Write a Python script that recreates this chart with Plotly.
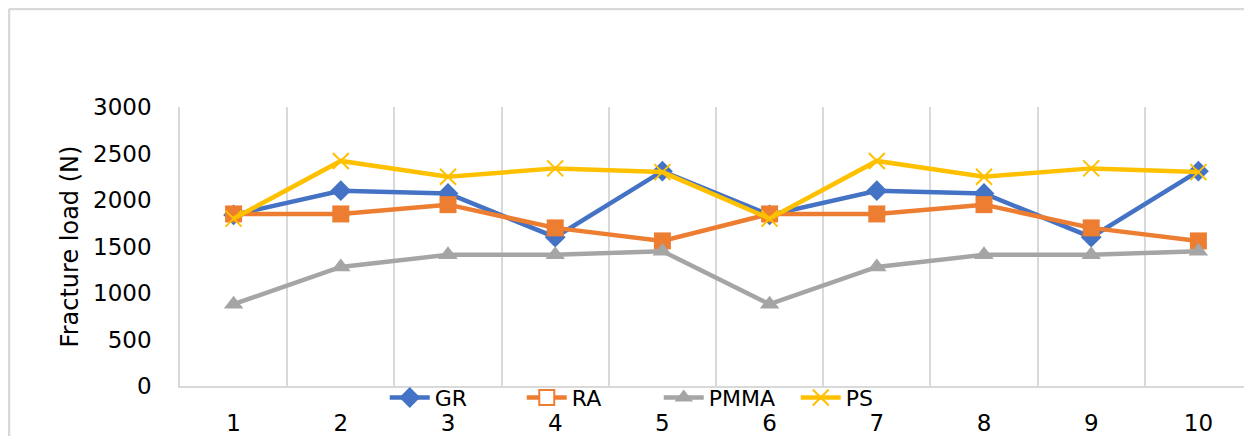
import plotly.graph_objects as go

categories = ["1", "2", "3", "4", "5", "6", "7", "8", "9", "10"]
gr = [1840, 2100, 2070, 1600, 2310, 1840, 2100, 2070, 1600, 2310]
ra = [1850, 1850, 1950, 1700, 1560, 1850, 1850, 1950, 1700, 1560]
pmma = [880, 1280, 1410, 1410, 1450, 880, 1280, 1410, 1410, 1450]
ps = [1800, 2420, 2250, 2340, 2300, 1800, 2420, 2250, 2340, 2300]
y_ticks = [0, 500, 1000, 1500, 2000, 2500, 3000]

FONT = "DejaVu Sans"
fig = go.Figure()

series = [
    ("GR", gr, "#4472C4", dict(symbol="diamond", size=16, color="#4472C4"), None),
    ("RA", ra, "#ED7D31", dict(symbol="square", size=17, color="#ED7D31"),
     dict(symbol="square", size=15, color="white", line=dict(color="#ED7D31", width=2))),
    ("PMMA", pmma, "#A5A5A5", dict(symbol="triangle-up", size=17, color="#A5A5A5"), None),
    ("PS", ps, "#FFC000", dict(symbol="x-thin-open", size=16, line=dict(color="#FFC000", width=2), color="#FFC000"), None),
]

for name, vals, col, mk, legmk in series:
    fig.add_trace(go.Scatter(
        x=categories, y=vals, name=name, mode="lines+markers",
        line=dict(color=col, width=4.5), marker=mk,
        showlegend=legmk is None, legendrank=len(fig.data),
    ))
    if legmk is not None:
        fig.add_trace(go.Scatter(
            x=[None], y=[None], name=name, mode="lines+markers",
            line=dict(color=col, width=4.5), marker=legmk, showlegend=True,
            legendrank=len(fig.data) - 1,
        ))

# page body has an 8px margin: figure starts at (8, 8)
fig.update_layout(
    width=1244, height=428,
    margin=dict(l=172, r=0, t=99, b=50),
    paper_bgcolor="white", plot_bgcolor="white",
    font=dict(family=FONT, size=22, color="black"),
    showlegend=True,
    legend=dict(orientation="h", x=0.191, y=-0.042, xanchor="left", yanchor="middle",
                bgcolor="rgba(255,255,255,0)", font=dict(size=22, family=FONT),
                itemwidth=40, entrywidth=82, entrywidthmode="pixels",
                tracegroupgap=0, traceorder="normal"),
    xaxis=dict(type="category", range=[-0.5, 9.5], tickson="boundaries",
               showgrid=True, gridcolor="#D9D9D9", gridwidth=1.5,
               showline=True, linecolor="#D9D9D9", linewidth=1.5, automargin=False,
               ticks="", ticklabelstandoff=16, tickfont=dict(size=23), zeroline=False),
    yaxis=dict(range=[0, 3000], tickvals=y_ticks, showgrid=False,
               showline=True, linecolor="#D9D9D9", linewidth=1.5, automargin=False,
               ticks="", ticklabelstandoff=22, tickfont=dict(size=23), zeroline=False,
               title=dict(text="Fracture load (N)", font=dict(size=24), standoff=8)),
    shapes=[
        dict(type="line", xref="paper", yref="paper", x0=-0.1595, x1=-0.1595, y0=-0.2, y1=1.351,
             line=dict(color="#D9D9D9", width=2.5)),
        dict(type="line", xref="paper", yref="paper", x0=-0.1595, x1=1.0, y0=1.351, y1=1.351,
             line=dict(color="#D9D9D9", width=2.5)),
    ],
)

fig.write_html("out.html")
